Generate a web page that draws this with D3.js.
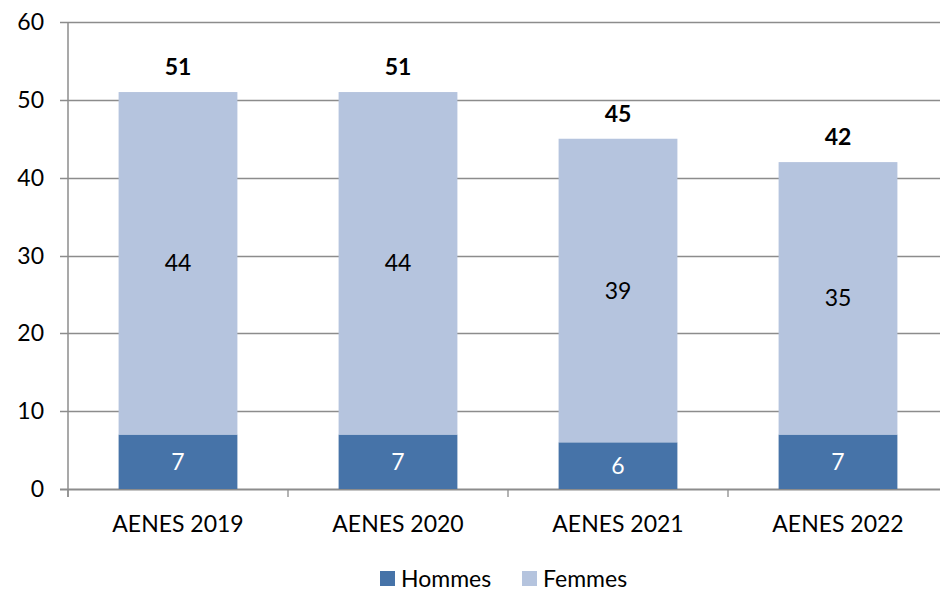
<!DOCTYPE html>
<html>
<head>
<meta charset="utf-8">
<script src="https://cdn.jsdelivr.net/npm/d3@7"></script>
<style>
  body { margin: 0; background: #fff; }
  text { font-family: Lato, "Open Sans", sans-serif; }
</style>
</head>
<body>
<div id="chart"></div>
<script>
var categories = ["AENES 2019", "AENES 2020", "AENES 2021", "AENES 2022"];
var hommes = [7, 7, 6, 7];
var femmes = [44, 44, 39, 35];
var yTicks = [0, 10, 20, 30, 40, 50, 60];
var seriesNames = ["Hommes", "Femmes"];
var colors = ["#4673a8", "#b5c4de"];

var width = 940, height = 593;
var fs = 23;

var svg = d3.select("#chart")
    .append("svg")
    .attr("width", width)
    .attr("height", height);

var x = d3.scaleBand()
    .domain(categories)
    .range([68, 948])
    .paddingInner(0.46)
    .paddingOuter(0.23);

var y = d3.scaleLinear()
    .domain([0, 60])
    .range([489, 22]);

// gridlines
svg.append("g")
    .selectAll("line")
    .data(yTicks)
    .enter()
    .append("line")
    .attr("x1", 60)
    .attr("x2", 948)
    .attr("y1", function (d) { return Math.round(y(d)) + 0.5; })
    .attr("y2", function (d) { return Math.round(y(d)) + 0.5; })
    .attr("stroke", "#8c8c8c")
    .attr("stroke-width", function (d) { return d === 0 ? 2 : 1.3; });

// y axis line
svg.append("line")
    .attr("x1", 68).attr("x2", 68)
    .attr("y1", 22).attr("y2", 497)
    .attr("stroke", "#8c8c8c")
    .attr("stroke-width", 1.5);

// y labels
svg.append("g")
    .selectAll("text")
    .data(yTicks)
    .enter()
    .append("text")
    .attr("x", 44)
    .attr("y", function (d) { return y(d); })
    .attr("dy", "0.35em")
    .attr("text-anchor", "end")
    .attr("font-size", fs)
    .attr("fill", "#000")
    .text(function (d) { return d; });

// x ticks between categories
svg.append("g")
    .selectAll("line")
    .data(d3.range(categories.length + 1))
    .enter()
    .append("line")
    .attr("x1", function (i) { return 68 + i * x.step(); })
    .attr("x2", function (i) { return 68 + i * x.step(); })
    .attr("y1", 489)
    .attr("y2", 497)
    .attr("stroke", "#8c8c8c")
    .attr("stroke-width", 1.3);

// x labels
svg.append("g")
    .selectAll("text")
    .data(categories)
    .enter()
    .append("text")
    .attr("x", function (d) { return x(d) + x.bandwidth() / 2; })
    .attr("y", 532)
    .attr("text-anchor", "middle")
    .attr("font-size", fs)
    .attr("fill", "#000")
    .text(function (d) { return d; });

var rows = categories.map(function (c, i) {
    return { cat: c, Hommes: hommes[i], Femmes: femmes[i] };
});
var stacked = d3.stack().keys(seriesNames)(rows);

var layers = svg.append("g")
    .selectAll("g")
    .data(stacked)
    .enter()
    .append("g")
    .attr("fill", function (d, i) { return colors[i]; });

layers.selectAll("rect")
    .data(function (d) { return d; })
    .enter()
    .append("rect")
    .attr("x", function (d) { return x(d.data.cat); })
    .attr("width", x.bandwidth())
    .attr("y", function (d) { return y(d[1]); })
    .attr("height", function (d) { return y(d[0]) - y(d[1]); });

// segment labels
layers.selectAll("text")
    .data(function (d, i) { return d.map(function (p) { p.series = i; return p; }); })
    .enter()
    .append("text")
    .attr("x", function (d) { return x(d.data.cat) + x.bandwidth() / 2; })
    .attr("y", function (d) { return (y(d[0]) + y(d[1])) / 2; })
    .attr("dy", "0.35em")
    .attr("text-anchor", "middle")
    .attr("font-size", fs)
    .attr("fill", function (d) { return d.series === 0 ? "#fff" : "#000"; })
    .text(function (d) { return d[1] - d[0]; });

// totals
svg.append("g")
    .selectAll("text")
    .data(rows)
    .enter()
    .append("text")
    .attr("x", function (d) { return x(d.cat) + x.bandwidth() / 2; })
    .attr("y", function (d) { return y(d.Hommes + d.Femmes) - 25; })
    .attr("dy", "0.35em")
    .attr("text-anchor", "middle")
    .attr("font-size", fs)
    .attr("font-weight", "bold")
    .attr("fill", "#000")
    .text(function (d) { return d.Hommes + d.Femmes; });

// legend
var legendX = [380, 522];
var legend = svg.append("g")
    .selectAll("g")
    .data(seriesNames)
    .enter()
    .append("g")
    .attr("transform", function (d, i) { return "translate(" + legendX[i] + ",571)"; });

legend.append("rect")
    .attr("width", 15)
    .attr("height", 15)
    .attr("fill", function (d, i) { return colors[i]; });

legend.append("text")
    .attr("x", 21)
    .attr("y", 8)
    .attr("dy", "0.35em")
    .attr("font-size", fs)
    .attr("fill", "#000")
    .text(function (d) { return d; });
</script>
</body>
</html>
